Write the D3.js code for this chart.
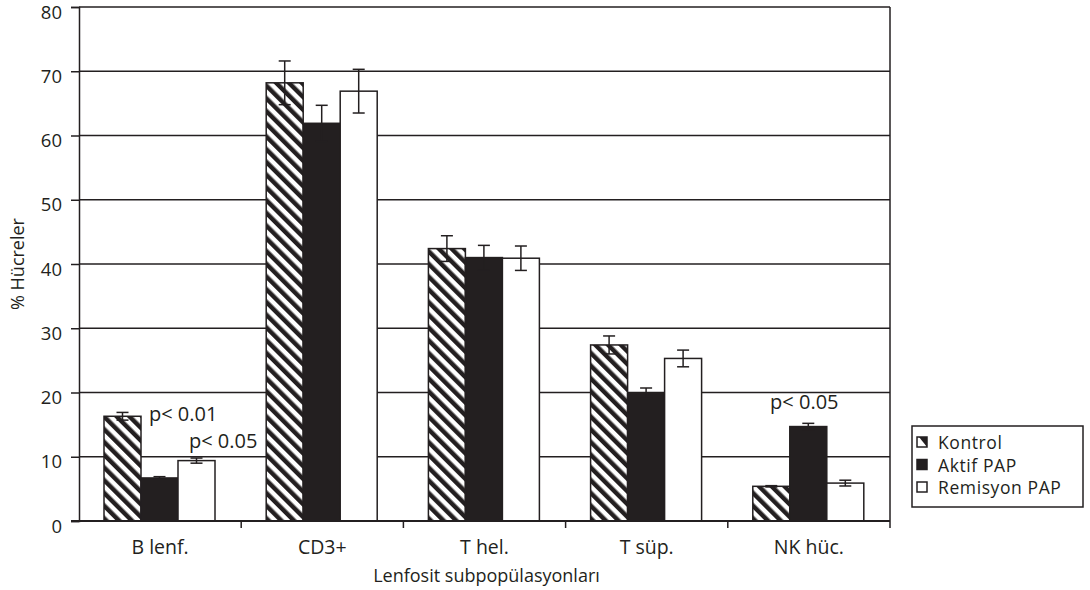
<!DOCTYPE html>
<html>
<head>
<meta charset="utf-8">
<script src="https://cdn.jsdelivr.net/npm/d3@7"></script>
<style>
  body { margin: 0; background: #fff; }
  svg text { font-family: "Open Sans", sans-serif; fill: #231f20; }
</style>
</head>
<body>
<div id="chart"></div>
<script>
// data
const categories = ['B lenf.', 'CD3+', 'T hel.', 'T süp.', 'NK hüc.'];
const seriesNames = ['Kontrol', 'Aktif PAP', 'Remisyon PAP'];
const kontrol = [16.3, 68.2, 42.4, 27.4, 5.4];
const aktif = [6.7, 61.9, 41.0, 19.9, 14.7];
const remisyon = [9.4, 66.9, 40.9, 25.3, 5.9];
const kontrolErr = [0.6, 3.4, 2.0, 1.4, 0.1];
const aktifErr = [0.2, 2.8, 1.9, 0.8, 0.5];
const remisyonErr = [0.4, 3.4, 1.9, 1.3, 0.45];
const yTicks = [0, 10, 20, 30, 40, 50, 60, 70, 80];
// p-value notes: [category, series, text]
const notes = [
  ['B lenf.', 'Kontrol', 'p< 0.01'],
  ['B lenf.', 'Remisyon PAP', 'p< 0.05'],
  ['NK hüc.', 'Aktif PAP', 'p< 0.05']
];

const W = 1090, H = 590;
const mLeft = 79, mRight = 890, mTop = 7, mBottom = 521;
const ink = '#231f20';

const svg = d3.select('#chart').append('svg')
  .attr('width', W)
  .attr('height', H);

// hatch for Kontrol
const defs = svg.append('defs');
const hatch = defs.append('pattern')
  .attr('id', 'hatch')
  .attr('patternUnits', 'userSpaceOnUse')
  .attr('width', 9)
  .attr('height', 9)
  .attr('patternTransform', 'rotate(-45)');
hatch.append('rect').attr('width', 9).attr('height', 9).attr('fill', '#fff');
hatch.append('rect').attr('width', 4.5).attr('height', 9).attr('fill', ink);

const fills = { 'Kontrol': 'url(#hatch)', 'Aktif PAP': ink, 'Remisyon PAP': '#fff' };

const x0 = d3.scaleBand().domain(categories).range([mLeft, mRight]).padding(0);
const x1 = d3.scaleBand().domain(seriesNames).range([25, 136]).padding(0);
const y = d3.scaleLinear().domain([0, 80]).range([mBottom, mTop]);

const rows = categories.map((c, i) => ({
  cat: c,
  vals: [
    { s: 'Kontrol', v: kontrol[i], e: kontrolErr[i] },
    { s: 'Aktif PAP', v: aktif[i], e: aktifErr[i] },
    { s: 'Remisyon PAP', v: remisyon[i], e: remisyonErr[i] }
  ]
}));

// gridlines
svg.append('g')
  .selectAll('line')
  .data(yTicks.filter(t => t > 0))
  .join('line')
  .attr('x1', mLeft).attr('x2', mRight)
  .attr('y1', d => y(d)).attr('y2', d => y(d))
  .attr('stroke', ink)
  .attr('stroke-width', 1.5);

// right border
svg.append('line')
  .attr('x1', mRight).attr('x2', mRight)
  .attr('y1', mTop).attr('y2', mBottom)
  .attr('stroke', ink).attr('stroke-width', 1.5);

// bars
const groups = svg.append('g')
  .selectAll('g')
  .data(rows)
  .join('g')
  .attr('transform', d => `translate(${x0(d.cat)},0)`);

groups.selectAll('rect')
  .data(d => d.vals)
  .join('rect')
  .attr('x', d => x1(d.s))
  .attr('y', d => y(d.v))
  .attr('width', x1.bandwidth())
  .attr('height', d => y(0) - y(d.v))
  .attr('fill', d => fills[d.s])
  .attr('stroke', ink)
  .attr('stroke-width', 1.5);

// error bars
const err = groups.selectAll('g.err')
  .data(d => d.vals)
  .join('g')
  .attr('class', 'err')
  .attr('transform', d => `translate(${x1(d.s) + x1.bandwidth() / 2},0)`);

err.append('line')
  .attr('y1', d => y(d.v + d.e)).attr('y2', d => y(d.v - d.e))
  .attr('stroke', ink).attr('stroke-width', 1.5);
err.append('line')
  .attr('x1', -6).attr('x2', 6)
  .attr('y1', d => y(d.v + d.e)).attr('y2', d => y(d.v + d.e))
  .attr('stroke', ink).attr('stroke-width', 1.5);
err.append('line')
  .attr('x1', -6).attr('x2', 6)
  .attr('y1', d => y(d.v - d.e)).attr('y2', d => y(d.v - d.e))
  .attr('stroke', ink).attr('stroke-width', 1.5);

// y axis
const yAxis = svg.append('g')
  .attr('transform', `translate(${mLeft},0)`)
  .call(d3.axisLeft(y).tickValues(yTicks).tickSize(8).tickPadding(9));
yAxis.select('.domain').attr('stroke', ink).attr('stroke-width', 1.5);
yAxis.selectAll('.tick line').attr('stroke', ink).attr('stroke-width', 1.5);
yAxis.selectAll('.tick text')
  .attr('font-size', 18.5)
  .attr('dy', '0.6em')
  .style('font-family', '"Open Sans", sans-serif')
  .attr('fill', ink);

// x axis: ticks at category boundaries
svg.append('line')
  .attr('x1', mLeft - 8).attr('x2', mRight)
  .attr('y1', y(0)).attr('y2', y(0))
  .attr('stroke', ink).attr('stroke-width', 2);
svg.append('g')
  .selectAll('line')
  .data(categories.slice(1).map(c => x0(c)).concat([mRight]))
  .join('line')
  .attr('x1', d => d).attr('x2', d => d)
  .attr('y1', y(0)).attr('y2', y(0) + 7)
  .attr('stroke', ink).attr('stroke-width', 1.5);

svg.append('g')
  .selectAll('text')
  .data(categories)
  .join('text')
  .attr('x', d => x0(d) + x0.bandwidth() / 2)
  .attr('y', 554)
  .attr('text-anchor', 'middle')
  .attr('font-size', 19.5)
  .text(d => d);

// axis titles
svg.append('text')
  .attr('x', (mLeft + mRight) / 2 + 2)
  .attr('y', 582)
  .attr('text-anchor', 'middle')
  .attr('font-size', 18)
  .text('Lenfosit subpopülasyonları');

svg.append('text')
  .attr('transform', `translate(24,${(mTop + mBottom) / 2}) rotate(-90)`)
  .attr('text-anchor', 'middle')
  .attr('font-size', 18)
  .text('% Hücreler');

// p-value notes
svg.append('g')
  .selectAll('text')
  .data(notes)
  .join('text')
  .attr('x', (d, i) => {
    const bx = x0(d[0]) + x1(d[1]);
    if (i === 0) return bx + x1.bandwidth() + 8;
    if (i === 1) return bx + 11;
    return bx + x1.bandwidth() / 2 - 4;
  })
  .attr('y', (d, i) => {
    const r = rows.find(r => r.cat === d[0]).vals.find(v => v.s === d[1]);
    if (i === 0) return y(r.v) + 5;
    if (i === 1) return y(r.v + r.e) - 10;
    return y(r.v + r.e) - 14;
  })
  .attr('text-anchor', (d, i) => i === 2 ? 'middle' : 'start')
  .attr('font-size', 20)
  .text(d => d[2]);

// legend
const lg = svg.append('g').attr('transform', 'translate(912,426)');
lg.append('rect')
  .attr('width', 171).attr('height', 81)
  .attr('fill', '#fff')
  .attr('stroke', ink).attr('stroke-width', 1.5);

const item = lg.selectAll('g')
  .data(seriesNames)
  .join('g')
  .attr('transform', (d, i) => `translate(5,${11 + i * 22.5})`);

item.append('rect')
  .attr('width', 10).attr('height', 10)
  .attr('fill', d => d === 'Aktif PAP' ? ink : '#fff')
  .attr('stroke', ink).attr('stroke-width', 1.5);
item.filter(d => d === 'Kontrol')
  .append('path')
  .attr('d', 'M2,0 L10,0 L10,10 Z')
  .attr('fill', ink);
item.append('text')
  .attr('x', 21)
  .attr('y', 12)
  .attr('font-size', 17.5)
  .attr('letter-spacing', 0.6)
  .text(d => d);
</script>
</body>
</html>
